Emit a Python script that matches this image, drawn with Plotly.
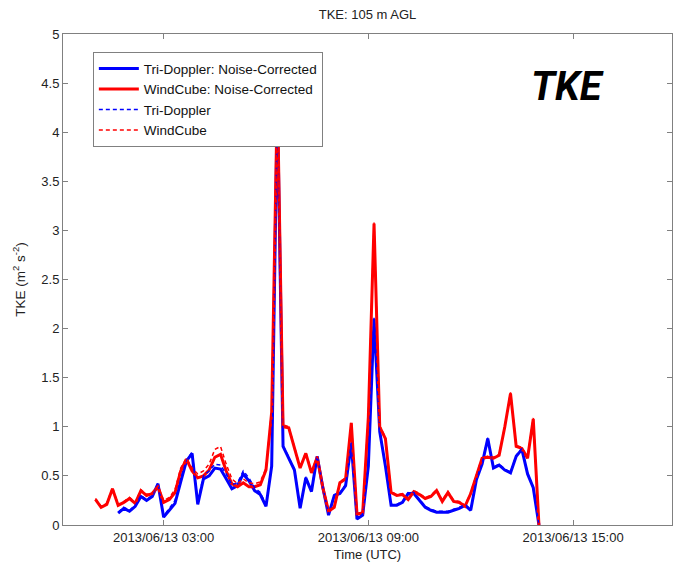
import pandas as pd
import plotly.graph_objects as go

# 10-minute samples, 2013-06-13 01:00 to 14:00 UTC
times = pd.date_range("2013-06-13 01:00", "2013-06-13 14:00", freq="10min")

windcube_nc = [0.26, 0.18, 0.21, 0.37, 0.20, 0.23, 0.27, 0.22, 0.35, 0.30,
               0.32, 0.39, 0.23, 0.26, 0.33, 0.55, 0.67, 0.55, 0.48, 0.50,
               0.56, 0.69, 0.72, 0.55, 0.42, 0.39, 0.43, 0.39, 0.39, 0.41,
               0.56, 1.15, 4.40, 1.00, 0.99, 0.78, 0.58, 0.73, 0.53, 0.69,
               0.38, 0.14, 0.18, 0.43, 0.47, 1.04, 0.11, 0.12, 1.10, 3.07,
               1.00, 0.88, 0.33, 0.30, 0.31, 0.26, 0.34, 0.31, 0.27, 0.29,
               0.35, 0.24, 0.33, 0.24, 0.23, 0.19, 0.32, 0.50, 0.68, 0.69,
               0.68, 0.71, 1.00, 1.34, 0.80, 0.78, 0.68, 1.08, 0.00]

windcube_raw = [0.27, 0.19, 0.22, 0.38, 0.21, 0.24, 0.28, 0.23, 0.36, 0.31,
                0.33, 0.40, 0.25, 0.28, 0.36, 0.58, 0.68, 0.58, 0.52, 0.55,
                0.62, 0.77, 0.80, 0.62, 0.47, 0.42, 0.47, 0.43, 0.42, 0.44,
                0.58, 1.17, 4.40, 1.02, 1.00, 0.79, 0.59, 0.74, 0.54, 0.70,
                0.39, 0.15, 0.19, 0.44, 0.48, 1.05, 0.12, 0.13, 1.11, 3.08,
                1.01, 0.89, 0.34, 0.31, 0.32, 0.27, 0.35, 0.32, 0.28, 0.30,
                0.36, 0.25, 0.34, 0.25, 0.24, 0.20, 0.33, 0.51, 0.69, 0.70,
                0.69, 0.72, 1.01, 1.35, 0.81, 0.79, 0.69, 1.09, 0.00]

tridoppler_nc = [None, None, None, None, 0.12, 0.17, 0.14, 0.19, 0.29, 0.25,
                 0.29, 0.42, 0.08, 0.15, 0.22, 0.44, 0.65, 0.73, 0.21, 0.47,
                 0.50, 0.58, 0.57, 0.47, 0.37, 0.40, 0.52, 0.45, 0.35, 0.31,
                 0.19, 0.60, 4.30, 0.80, 0.68, 0.56, 0.17, 0.48, 0.34, 0.70,
                 0.38, 0.10, 0.30, 0.32, 0.40, 0.83, 0.06, 0.10, 0.60, 2.10,
                 0.95, 0.60, 0.20, 0.20, 0.23, 0.32, 0.32, 0.25, 0.18, 0.15,
                 0.13, 0.13, 0.13, 0.15, 0.17, 0.20, 0.15, 0.46, 0.62, 0.88,
                 0.58, 0.61, 0.56, 0.53, 0.70, 0.77, 0.52, 0.38, 0.00]

tridoppler_raw = [None, None, None, None, 0.13, 0.18, 0.15, 0.20, 0.30, 0.26,
                  0.30, 0.43, 0.09, 0.17, 0.25, 0.47, 0.66, 0.74, 0.24, 0.50,
                  0.55, 0.62, 0.61, 0.52, 0.41, 0.43, 0.55, 0.48, 0.38, 0.33,
                  0.21, 0.62, 4.30, 0.81, 0.69, 0.57, 0.18, 0.49, 0.35, 0.71,
                  0.39, 0.11, 0.31, 0.33, 0.41, 0.84, 0.07, 0.11, 0.61, 2.11,
                  0.96, 0.61, 0.21, 0.21, 0.24, 0.33, 0.33, 0.26, 0.19, 0.16,
                  0.14, 0.14, 0.14, 0.16, 0.18, 0.21, 0.16, 0.47, 0.63, 0.89,
                  0.59, 0.62, 0.57, 0.54, 0.71, 0.78, 0.53, 0.39, 0.00]

x_ticks = ["2013-06-13 03:00", "2013-06-13 09:00", "2013-06-13 15:00"]
x_tick_text = ["2013/06/13 03:00", "2013/06/13 09:00", "2013/06/13 15:00"]
y_ticks = [0, 0.5, 1, 1.5, 2, 2.5, 3, 3.5, 4, 4.5, 5]

BLUE = "#0000ff"
RED = "#ff0000"
FONT = "Liberation Sans, Arial, sans-serif"

fig = go.Figure()
fig.add_trace(go.Scatter(x=times, y=tridoppler_nc, mode="lines",
                         name="Tri-Doppler: Noise-Corrected",
                         line=dict(color=BLUE, width=3)))
fig.add_trace(go.Scatter(x=times, y=windcube_nc, mode="lines",
                         name="WindCube: Noise-Corrected",
                         line=dict(color=RED, width=3)))
fig.add_trace(go.Scatter(x=times, y=tridoppler_raw, mode="lines",
                         name="Tri-Doppler",
                         line=dict(color=BLUE, width=1.5, dash="4px,3px")))
fig.add_trace(go.Scatter(x=times, y=windcube_raw, mode="lines",
                         name="WindCube",
                         line=dict(color=RED, width=1.5, dash="4px,3px")))

axis_common = dict(showgrid=False, zeroline=False, showline=True,
                   linecolor="#808080", linewidth=1, mirror="allticks",
                   ticks="inside", ticklen=5, tickcolor="#808080",
                   tickfont=dict(family=FONT, size=13, color="#222222"))

fig.update_xaxes(type="date",
                 range=["2013-06-13 00:03", "2013-06-13 17:54"],
                 tickvals=x_ticks, ticktext=x_tick_text,
                 title=dict(text="Time (UTC)", standoff=6,
                            font=dict(family=FONT, size=13, color="#222222")),
                 **axis_common)
fig.update_yaxes(range=[0, 5], tickvals=y_ticks,
                 title=dict(text="TKE (m<sup>2</sup> s<sup>-2</sup>)", standoff=12,
                            font=dict(family=FONT, size=13.5, color="#222222")),
                 **axis_common)

fig.update_layout(
    width=673, height=570,
    margin=dict(l=63, r=1, t=34, b=45),
    paper_bgcolor="white", plot_bgcolor="white",
    title=dict(text="TKE: 105 m AGL", x=0.5, xref="paper", y=0.975, yanchor="middle",
               font=dict(family=FONT, size=13, color="#222222")),
    showlegend=True,
    legend=dict(x=0.049, y=0.963, xanchor="left", yanchor="top",
                bgcolor="white", bordercolor="#808080", borderwidth=1,
                font=dict(family=FONT, size=13.5, color="#111111"),
                tracegroupgap=0, itemwidth=40),
    annotations=[dict(text="<b><i>TKE</i></b>", x=0.828, y=0.893,
                      xref="paper", yref="paper", xanchor="center", yanchor="middle",
                      showarrow=False,
                      font=dict(family="Roboto, sans-serif", size=40, color="black"))],
)

fig.write_html("out.html")
